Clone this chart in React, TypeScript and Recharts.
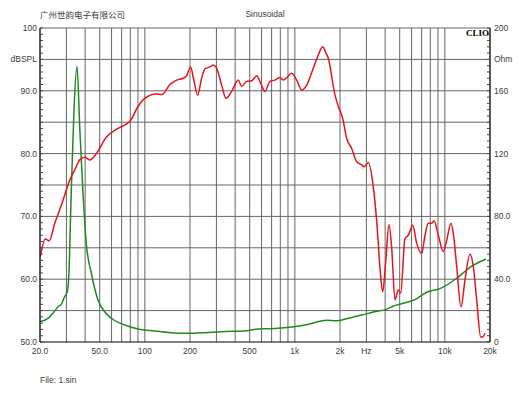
import { CartesianGrid, Line, LineChart, ReferenceLine, XAxis, YAxis } from 'recharts';

// SPL curve (Hz / dBSPL)
const splFreq = [20.1, 21.7, 23.0, 25.1, 28.5, 29.2, 31.6, 34.1, 36.8, 39.7, 42.9, 47.5, 55.3, 66.2, 75.2, 79.3, 90, 99.8,
  119, 130, 147, 163, 180, 190, 202, 210, 225, 239, 252, 272, 286, 301, 325, 348, 379, 420, 442, 478, 516, 557, 592,
  632, 683, 737, 796, 838, 883, 953, 1029, 1111, 1200, 1327, 1433, 1534, 1613, 1671, 1852, 1949, 2084, 2216, 2394,
  2585, 2791, 2891, 3089, 3334, 3514, 3697, 3853, 4034, 4244, 4423, 4653, 4894, 5077, 5426, 5708, 6106, 6493, 7010,
  7374, 7760, 8175, 8468, 9045, 9768, 10290, 10990, 11385, 11996, 12815, 13627, 14713, 15481, 16306, 17338, 17880, 18520];
const splDb = [63.6, 66.4, 66.1, 68.9, 72.6, 73.4, 75.8, 77.4, 79.0, 79.4, 79.0, 80.0, 82.6, 84.0, 84.7, 85.1, 87.5, 88.8,
  89.5, 89.4, 91.0, 91.7, 92.0, 92.4, 93.8, 92.2, 89.3, 92.0, 93.5, 93.8, 94.1, 93.6, 90.9, 88.8, 89.9, 91.7, 90.7, 91.5,
  91.6, 92.4, 91.2, 89.9, 91.5, 91.7, 92.1, 91.7, 92.1, 92.8, 91.7, 90.1, 90.9, 93.6, 95.7, 97.0, 96.0, 95.2, 89.3, 87.5,
  85.6, 82.4, 80.8, 78.7, 78.2, 77.9, 78.6, 74.7, 69.2, 61.7, 58.0, 62.8, 68.7, 64.9, 56.7, 58.3, 57.8, 66.5, 67.0, 68.6,
  65.7, 64.1, 67.0, 68.9, 68.9, 69.3, 67.0, 64.4, 66.2, 68.9, 67.3, 62.0, 55.6, 59.9, 64.0, 62.0, 56.7, 50.8, 50.8, 51.4];

// Impedance curve (Hz / Ohm)
const impFreq = [20, 22.6, 24.4, 26.4, 27.7, 29.2, 30.4, 31.1, 32.3, 33.7, 35.3, 36.8, 38.7, 40.7, 44.0, 48.7, 54.0, 59.8,
  73.4, 90, 116, 150, 194, 251, 323, 463, 568, 697, 928, 1169, 1630, 1900, 2271, 2791, 3600, 4034, 4532, 5426, 6325,
  7568, 9283, 11996, 14713, 18810];
const impOhm = [12.9, 15.1, 18.3, 22.5, 24.0, 28.9, 32.0, 41.6, 94.7, 147.8, 175.4, 137, 94.7, 62.9, 43.8, 26.8, 19.3, 15.1,
  10.8, 8.3, 7.0, 5.9, 5.5, 5.9, 6.6, 7.0, 8.3, 8.5, 9.4, 10.8, 13.8, 13.5, 15.1, 17.2, 19.7, 20.6, 22.9, 25.0, 27.0,
  31.7, 34.0, 40.6, 47.6, 52.9];

const xGrid = [20, 30, 40, 50, 60, 70, 80, 90, 100, 200, 300, 400, 500, 600, 700, 800, 900, 1000, 2000, 3000, 4000,
  5000, 6000, 7000, 8000, 9000, 10000, 20000];
const xLabelAt = [20, 50, 100, 200, 500, 1000, 2000, 3000, 5000, 10000, 20000];
const xLabelText = ['20.0', '50.0', '100', '200', '500', '1k', '2k', 'Hz', '5k', '10k', '20k'];

const dbGrid = [55, 60, 65, 70, 75, 80, 85, 90, 95, 100];
const dbLabelAt = [50, 60, 70, 80, 90, 95, 100];
const dbLabelText = ['50.0', '60.0', '70.0', '80.0', '90.0', 'dBSPL', '100'];
const dbMinor = Array.from({ length: 51 }, (_, i) => 50 + i);

const ohmLabelAt = [0, 40, 80, 120, 160, 180, 200];
const ohmLabelText = ['0', '40.0', '80.0', '120', '160', 'Ohm', '200'];
const ohmMinor = Array.from({ length: 51 }, (_, i) => i * 4);

const splData = splFreq.map((f, i) => ({ f, v: splDb[i] }));
const impData = impFreq.map((f, i) => ({ f, v: impOhm[i] }));

const FONT = '"Liberation Sans", Arial, sans-serif';
const TXT = '#3c3c3c';

function label(list: number[], texts: string[], value: number) {
  const i = list.indexOf(value);
  return i < 0 ? '' : texts[i];
}

const XTick = (p: any) => (
  <text x={p.x} y={p.y} dy="0.71em" textAnchor="middle" fontSize={8.5} fontFamily={FONT} fill={TXT}>
    {label(xLabelAt, xLabelText, p.payload.value)}
  </text>
);

// label + short inward tick (axis sits 3px right of the label anchor)
const LeftTick = (p: any) => (
  <g>
    <line x1={p.x + 3} x2={p.x + 6} y1={p.y} y2={p.y} stroke="#444" />
    <text x={p.x} y={p.y} dy="0.35em" textAnchor="end" fontSize={8.5} fontFamily={FONT} fill={TXT}>
      {label(dbLabelAt, dbLabelText, p.payload.value)}
    </text>
  </g>
);

const RightTick = (p: any) => (
  <g>
    <line x1={p.x - 4} x2={p.x - 7} y1={p.y} y2={p.y} stroke="#444" />
    <text x={p.x} y={p.y} dy="0.35em" textAnchor="start" fontSize={8.5} fontFamily={FONT} fill={TXT}>
      {label(ohmLabelAt, ohmLabelText, p.payload.value)}
    </text>
  </g>
);

export default function App() {
  return (
    <div style={{ position: 'absolute', left: 0, top: 0, width: 530, height: 398, background: '#fff', fontFamily: FONT }}>
      <LineChart width={530} height={398} margin={{ top: 28, right: 0, bottom: 26, left: 0 }}>
        <CartesianGrid yAxisId="db" stroke="#666" strokeWidth={1} horizontal={false} vertical />
        {dbGrid.map((t) => (
          <ReferenceLine key={t} yAxisId="db" y={t} stroke="#666" strokeWidth={1} />
        ))}
        <XAxis
          dataKey="f"
          type="number"
          scale="log"
          domain={[20, 20000]}
          ticks={xGrid}
          interval={0}
          allowDataOverflow
          height={30}
          tickSize={0}
          tickMargin={6}
          tick={XTick}
          axisLine={{ stroke: '#000' }}
          tickLine={false}
        />
        <YAxis
          yAxisId="db"
          orientation="left"
          domain={[50, 100]}
          ticks={dbMinor}
          interval={0}
          width={40}
          tickSize={0}
          tickMargin={3}
          tick={LeftTick}
          axisLine={{ stroke: '#000' }}
          tickLine={false}
        />
        <YAxis
          yAxisId="ohm"
          orientation="right"
          domain={[0, 200]}
          ticks={ohmMinor}
          interval={0}
          width={40}
          tickSize={0}
          tickMargin={4}
          tick={RightTick}
          axisLine={{ stroke: '#000' }}
          tickLine={false}
        />
        <Line
          yAxisId="ohm"
          data={impData}
          dataKey="v"
          type="monotone"
          stroke="#1f8a1f"
          strokeWidth={1.5}
          dot={false}
          isAnimationActive={false}
        />
        <Line
          yAxisId="db"
          data={splData}
          dataKey="v"
          type="monotone"
          stroke="#e8141c"
          strokeWidth={1.5}
          dot={false}
          isAnimationActive={false}
        />
      </LineChart>
      <div style={{ position: 'absolute', left: 40, top: 8, fontSize: 8.5, color: TXT, whiteSpace: 'nowrap', fontFamily: '"Noto Sans CJK SC", sans-serif', lineHeight: '12px' }}>
        广州世韵电子有限公司
      </div>
      <div style={{ position: 'absolute', left: 215, width: 100, top: 8, fontSize: 8.5, color: TXT, textAlign: 'center', lineHeight: '12px' }}>
        Sinusoidal
      </div>
      <div style={{ position: 'absolute', right: 41, top: 28, fontSize: 9, fontWeight: 'bold', color: '#000', fontFamily: '"Liberation Serif", serif', lineHeight: '11px' }}>
        CLIO
      </div>
      <div style={{ position: 'absolute', left: 40, top: 374, fontSize: 8.5, color: TXT, lineHeight: '12px' }}>
        File: 1.sin
      </div>
    </div>
  );
}
